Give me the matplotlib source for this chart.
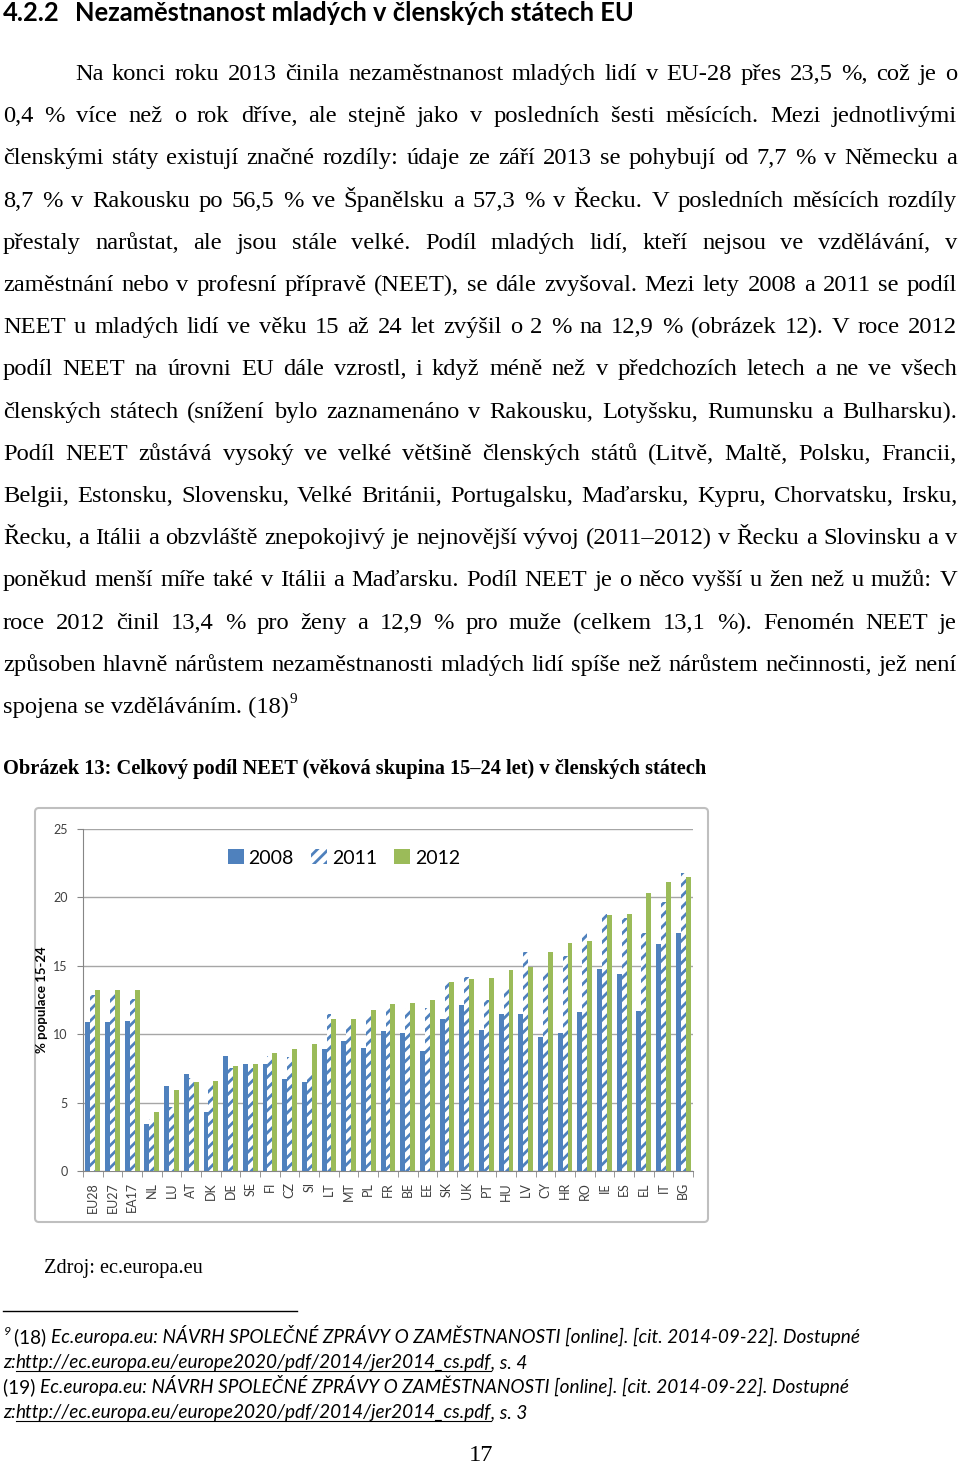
import matplotlib
matplotlib.use('Agg')
import matplotlib.pyplot as plt
import numpy as np
from matplotlib.patches import FancyBboxPatch

# NEET share (% of population 15-24)
countries = ['EU28', 'EU27', 'EA17', 'NL', 'LU', 'AT', 'DK', 'DE', 'SE', 'FI', 'CZ',
             'SI', 'LT', 'MT', 'PL', 'FR', 'BE', 'EE', 'SK', 'UK', 'PT', 'HU', 'LV',
             'CY', 'HR', 'RO', 'IE', 'ES', 'EL', 'IT', 'BG']
neet_2008 = [10.9, 10.9, 11.0, 3.4, 6.2, 7.1, 4.3, 8.4, 7.8, 7.8, 6.7, 6.5, 8.9, 9.5,
             9.0, 10.2, 10.1, 8.8, 11.1, 12.1, 10.3, 11.5, 11.5, 9.8, 10.1, 11.6, 14.8,
             14.4, 11.7, 16.6, 17.4]
neet_2011 = [12.9, 13.0, 12.6, 3.8, 4.7, 6.8, 6.3, 7.5, 7.5, 8.4, 8.3, 7.1, 11.5, 10.7,
             11.5, 12.0, 11.9, 11.9, 13.8, 14.2, 12.5, 13.4, 16.0, 14.6, 15.7, 17.4, 18.8,
             18.5, 17.4, 19.7, 21.8]
neet_2012 = [13.2, 13.2, 13.2, 4.3, 5.9, 6.5, 6.6, 7.7, 7.8, 8.6, 8.9, 9.3, 11.1, 11.1,
             11.8, 12.2, 12.3, 12.5, 13.8, 14.0, 14.1, 14.7, 14.9, 16.0, 16.7, 16.8, 18.7,
             18.8, 20.3, 21.1, 21.5]
years = ['2008', '2011', '2012']
yticks = [0, 5, 10, 15, 20, 25]
ylabel = '% populace 15-24'

heading_num = '4.2.2'
heading = 'Nezaměstnanost mladých v členských státech EU'
body_lines = [
    'Na konci roku 2013 činila nezaměstnanost mladých lidí v EU-28 přes 23,5 %, což je o',
    '0,4 % více než o rok dříve, ale stejně jako v posledních šesti měsících. Mezi jednotlivými',
    'členskými státy existují značné rozdíly: údaje ze září 2013 se pohybují od 7,7 % v Německu a',
    '8,7 % v Rakousku po 56,5 % ve Španělsku a 57,3 % v Řecku. V posledních měsících rozdíly',
    'přestaly narůstat, ale jsou stále velké. Podíl mladých lidí, kteří nejsou ve vzdělávání, v',
    'zaměstnání nebo v profesní přípravě (NEET), se dále zvyšoval. Mezi lety 2008 a 2011 se podíl',
    'NEET u mladých lidí ve věku 15 až 24 let zvýšil o 2 % na 12,9 % (obrázek 12). V roce 2012',
    'podíl NEET na úrovni EU dále vzrostl, i když méně než v předchozích letech a ne ve všech',
    'členských státech (snížení bylo zaznamenáno v Rakousku, Lotyšsku, Rumunsku a Bulharsku).',
    'Podíl NEET zůstává vysoký ve velké většině členských států (Litvě, Maltě, Polsku, Francii,',
    'Belgii, Estonsku, Slovensku, Velké Británii, Portugalsku, Maďarsku, Kypru, Chorvatsku, Irsku,',
    'Řecku, a Itálii a obzvláště znepokojivý je nejnovější vývoj (2011–2012) v Řecku a Slovinsku a v',
    'poněkud menší míře také v Itálii a Maďarsku. Podíl NEET je o něco vyšší u žen než u mužů: V',
    'roce 2012 činil 13,4 % pro ženy a 12,9 % pro muže (celkem 13,1 %). Fenomén NEET je',
    'způsoben hlavně nárůstem nezaměstnanosti mladých lidí spíše než nárůstem nečinnosti, jež není',
]
last_line = 'spojena se vzděláváním. (18)'
caption = 'Obrázek 13: Celkový podíl NEET (věková skupina 15–24 let) v členských státech'
source = 'Zdroj: ec.europa.eu'
ref_title = 'Ec.europa.eu: NÁVRH SPOLEČNÉ ZPRÁVY O ZAMĚSTNANOSTI [online]. [cit. 2014-09-22]. Dostupné'
url = 'http://ec.europa.eu/europe2020/pdf/2014/jer2014_cs.pdf'
page_no = '17'

SERIF = 'Liberation Serif'
SANS = 'Lato'
BLUE = '#4F81BD'
GREEN = '#9BBB59'

plt.rcParams['hatch.linewidth'] = 2.0

fig = plt.figure(figsize=(9.6, 14.65), dpi=100)
page = fig.add_axes([0, 0, 1, 1])
page.set_xlim(0, 960)
page.set_ylim(1465, 0)
page.axis('off')
rend = fig.canvas.get_renderer()


def put(s, x, y, size, **kw):
    return page.text(x, y, s, fontsize=size, va='baseline', **kw)


def width(t):
    return t.get_window_extent(rend).width


def fit(s, target, **kw):
    t = put(s, 0, 0, 10, **kw)
    w = width(t)
    t.remove()
    return 10 * target / w


def justify(line, x0, x1, y, size, **kw):
    words = line.split(' ')
    ts = [put(w, 0, y, size, **kw) for w in words]
    ws = [width(t) for t in ts]
    gap = (x1 - x0 - sum(ws)) / (len(words) - 1)
    x = x0
    for t, w in zip(ts, ws):
        t.set_x(x)
        x += w + gap


def runs(items, x, y, size):
    # items: (text, italic, underline)
    for s, ital, under in items:
        t = put(s, x, y, size, family=SANS, style='italic' if ital else 'normal')
        w = width(t)
        if under:
            page.plot([x, x + w], [y + 2.5, y + 2.5], color='black', lw=0.8)
        x += w
    return x


# heading
hs = fit(heading, 561, family=SANS, weight='bold')
put(heading_num, 3, 21, hs, family=SANS, weight='bold')
put(heading, 75, 21, hs, family=SANS, weight='bold')

# body text, justified
bs = fit(last_line, 286, family=SERIF)
for i, line in enumerate(body_lines):
    justify(line, 75 if i == 0 else 3, 957, 80 + 42.2 * i, bs, family=SERIF)
y_last = 80 + 42.2 * len(body_lines)
t = put(last_line, 3, y_last, bs, family=SERIF)
put('9', 3 + width(t) + 1, y_last - 10, bs * 0.62, family=SERIF)

# caption and source
put(caption, 3, 774, fit(caption, 703, family=SERIF, weight='bold'), family=SERIF, weight='bold')
put(source, 44, 1273, fit(source, 158, family=SERIF), family=SERIF)

# footnotes
page.plot([3, 297], [1311, 1311], color='black', lw=1)
t = put('(19) ' + ref_title, 0, 0, 10, family=SANS, style='italic')
fs = 10 * 845 / width(t)
t.remove()
put('9', 4, 1335, fs * 0.65, family=SANS, style='italic')
runs([('(18) ', False, False), (ref_title, True, False)], 14, 1343, fs)
runs([('z:', True, False), (url, True, True), (', s. 4', True, False)], 3, 1368, fs)
runs([('(19) ', False, False), (ref_title, True, False)], 3, 1393, fs)
runs([('z:', True, False), (url, True, True), (', s. 3', True, False)], 3, 1418, fs)

put(page_no, 481, 1461, bs, family=SERIF, ha='center')

# chart frame
page.add_patch(FancyBboxPatch((35, 808), 673, 414, boxstyle='round,pad=0,rounding_size=4',
                              fc='white', ec='#BFBFBF', lw=1.5))

# chart
ax = fig.add_axes([83 / 960, 1 - 1171 / 1465, 610 / 960, 342 / 1465])
ax.patch.set_alpha(0)
x = np.arange(len(countries))
w = 0.25
ax.bar(x - w, neet_2008, w, color=BLUE, label=years[0], zorder=3)
ax.bar(x, neet_2011, w, facecolor='white', edgecolor=BLUE, hatch='///', lw=0,
       label=years[1], zorder=3)
ax.bar(x + w, neet_2012, w, color=GREEN, label=years[2], zorder=3)

ax.set_xlim(-0.5, len(countries) - 0.5)
ax.set_ylim(0, 25)
ax.set_yticks(yticks)
ax.set_yticklabels([str(v) for v in yticks], fontsize=9, family=SANS, color='#404040')
ax.grid(axis='y', color='#A6A6A6', lw=1, zorder=0)
ax.set_xticks(x)
ax.set_xticklabels(countries, rotation=90, fontsize=9, family=SANS, color='#404040')
ax.set_xticks(np.arange(len(countries) + 1) - 0.5, minor=True)
ax.tick_params(axis='x', which='major', length=0, pad=8)
ax.tick_params(axis='x', which='minor', length=4, color='#868686')
ax.tick_params(axis='y', length=4, color='#868686', pad=7)
for s in ['top', 'right']:
    ax.spines[s].set_visible(False)
for s in ['left', 'bottom']:
    ax.spines[s].set_color('#868686')
ax.set_ylabel(ylabel, fontsize=9.5, family=SANS, weight='bold')
ax.yaxis.set_label_coords(-0.058, 0.5)
ax.legend(loc='center', bbox_to_anchor=(0.428, 0.915), ncol=3, frameon=False,
          prop={'family': SANS, 'size': 14}, handlelength=0.8, handleheight=0.8,
          handletextpad=0.25, columnspacing=0.9)

fig.savefig('out.png', dpi=100)
